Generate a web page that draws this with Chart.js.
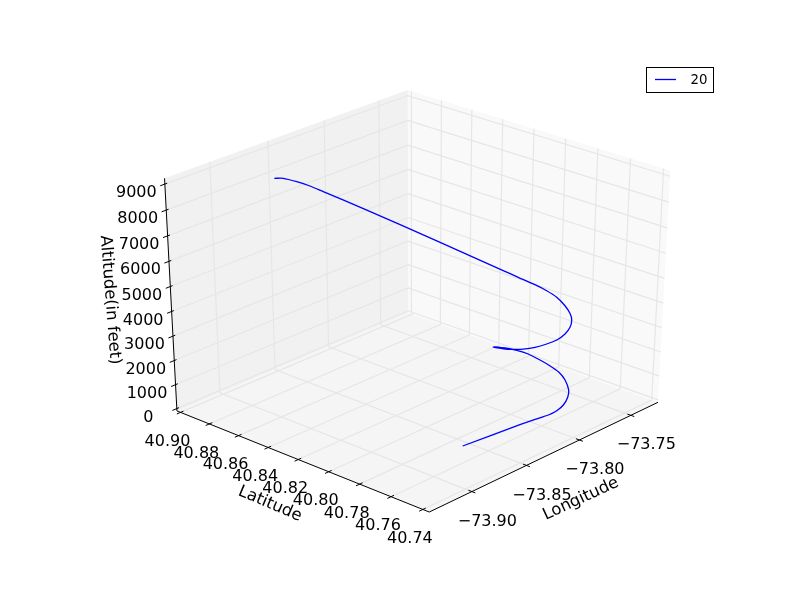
<!DOCTYPE html>
<html><head><meta charset="utf-8">
<style>html,body{margin:0;padding:0;background:#fff}canvas{display:block}</style>
<script src="https://cdn.jsdelivr.net/npm/chart.js@4"></script></head>
<body><canvas id="c" width="800" height="600"></canvas>
<script>
const longitude=[-73.8580,-73.8336,-73.8268,-73.8220,-73.8173,-73.8115,-73.8046,-73.7986,-73.7929,-73.7905,-73.7914,-73.7930,-73.7961,-73.8015,-73.8086,-73.8166,-73.8185,-73.8191,-73.8187,-73.8168,-73.8132,-73.8088,-73.8026,-73.7962,-73.7898,-73.7856,-73.7825,-73.7806,-73.7820,-73.7851,-73.7910,-73.7961,-73.8179,-73.8404,-73.8548,-73.8596,-73.8660,-73.8752,-73.8867];
const latitude=[40.7709,40.7515,40.7466,40.7416,40.7395,40.7393,40.7412,40.7446,40.7507,40.7562,40.7612,40.7666,40.7721,40.7758,40.7785,40.7805,40.7729,40.7663,40.7603,40.7543,40.7496,40.7463,40.7454,40.7466,40.7498,40.7537,40.7589,40.7654,40.7708,40.7762,40.7828,40.7889,40.8180,40.8462,40.8627,40.8678,40.8715,40.8733,40.8703];
const altitude=[0,850,1050,1250,1380,1500,1630,1730,1880,2020,2180,2330,2510,2680,2850,3000,3140,3280,3420,3590,3760,3910,4050,4170,4270,4370,4500,4660,4830,5010,5270,5500,6500,7500,8100,8300,8500,8750,9000];
const seriesName='20';
const lonTicks=[-73.90,-73.85,-73.80,-73.75];
const latTicks=[40.74,40.76,40.78,40.80,40.82,40.84,40.86,40.88,40.90];
const altTicks=[0,1000,2000,3000,4000,5000,6000,7000,8000,9000];
const lonLim=[-73.938,-73.723],latLim=[40.736,40.9025],altLim=[-100,9220];

const az=-137.5*Math.PI/180,el=30*Math.PI/180,dist=10;
const n=[Math.cos(el)*Math.cos(az),Math.cos(el)*Math.sin(az),Math.sin(el)];
const rt=[-Math.sin(az),Math.cos(az),0];
const up=[-Math.sin(el)*Math.cos(az),-Math.sin(el)*Math.sin(az),Math.cos(el)];
const dot=(a,b)=>a[0]*b[0]+a[1]*b[1]+a[2]*b[2];
function projU(u,v,w){const p=[u-.5,v-.5,w-.5];const f=dist/(dist-dot(p,n));return {x:dot(p,rt)*f,y:dot(p,up)*f};}
const fr=(v,l)=>(v-l[0])/(l[1]-l[0]);
const P=(lon,lat,alt)=>projU(fr(lon,lonLim),fr(lat,latLim),fr(alt,altLim));
const sx=349,cx=418.1,sy=268,cy=293.4;

const seg=(pts,color,w,ord,extra)=>Object.assign({data:pts,showLine:true,borderColor:color,borderWidth:w,pointRadius:0,order:ord,tension:0,fill:false,label:''},extra||{});
const ds=[];
const[lo0,lo1]=lonLim,[la0,la1]=latLim,[z0,z1]=altLim;
ds.push(seg([P(lo0,la1,z0),P(lo1,la1,z0),P(lo1,la1,z1),P(lo0,la1,z1)],'#f1f1f1',0,9,{fill:'shape',backgroundColor:'#f1f1f1'}));
ds.push(seg([P(lo1,la1,z0),P(lo1,la0,z0),P(lo1,la0,z1),P(lo1,la1,z1)],'#f9f9f9',0,9,{fill:'shape',backgroundColor:'#f9f9f9'}));
ds.push(seg([P(lo0,la0,z0),P(lo1,la0,z0),P(lo1,la1,z0),P(lo0,la1,z0)],'#f5f5f5',0,9,{fill:'shape',backgroundColor:'#f5f5f5'}));
const grid='#e6e6e6';
lonTicks.forEach(t=>ds.push(seg([P(t,la0,z0),P(t,la1,z0),P(t,la1,z1)],grid,1.2,8)));
latTicks.forEach(t=>ds.push(seg([P(lo0,t,z0),P(lo1,t,z0),P(lo1,t,z1)],grid,1.2,8)));
altTicks.forEach(t=>ds.push(seg([P(lo0,la1,t),P(lo1,la1,t),P(lo1,la0,t)],grid,1.2,8)));
ds.push(seg([P(lo0,la1,z0),P(lo0,la0,z0),P(lo1,la0,z0)],'#000',1,2));
ds.push(seg([P(lo0,la1,z0),P(lo0,la1,z1)],'#000',1,2));
const dLon=lo1-lo0,dLat=la1-la0;
latTicks.forEach(t=>ds.push(seg([P(lo0-.015*dLon,t,z0),P(lo0+.012*dLon,t,z0)],'#000',1,2)));
lonTicks.forEach(t=>ds.push(seg([P(t,la0-.013*dLat,z0),P(t,la0+.013*dLat,z0)],'#000',1,2)));
altTicks.forEach(t=>ds.push(seg([P(lo0-.018*dLon,la1,t),P(lo0+.009*dLon,la1,t)],'#000',1,2)));
ds.push(seg(longitude.map((q,i)=>P(q,latitude[i],altitude[i])),'#0000ff',1.3,1,{tension:.25,label:seriesName}));

const font='"DejaVu Sans"';
const texts={id:'texts',afterDraw(ch){const c=ch.ctx,X=ch.scales.x,Y=ch.scales.y;c.save();c.fillStyle='#000';c.textAlign='center';c.textBaseline='middle';c.font='16px '+font;
 const at=(p,dx,dy,s)=>c.fillText(s,X.getPixelForValue(p.x)+dx,Y.getPixelForValue(p.y)+dy);
 latTicks.forEach(t=>at(P(lo0,t,z0),-13,29.5,t.toFixed(2)));
 lonTicks.forEach(t=>at(P(t,la0,z0),15.5,30,'\u2212'+Math.abs(t).toFixed(2)));
 altTicks.forEach(t=>at(P(lo0,la1,t),-28.5,9,String(t)));
 const rot=(s,x,y,a)=>{c.save();c.translate(x,y);c.rotate(a*Math.PI/180);c.fillText(s,0,0);c.restore();};
 c.font='16.4px '+font;
 rot('Latitude',270,504,23);rot('Longitude',581,499,-25);rot('Altitude(in feet)',110,300,85.5);
 c.fillStyle='#fff';c.strokeStyle='#000';c.lineWidth=1;c.fillRect(646.5,67.5,67,25);c.strokeRect(646.5,67.5,67,25);
 c.strokeStyle='#0000ff';c.lineWidth=1.3;c.beginPath();c.moveTo(655,79.5);c.lineTo(676,79.5);c.stroke();
 c.fillStyle='#000';c.font='13.3px '+font;c.fillText(seriesName,699,80.5);
 c.restore();}};
new Chart(document.getElementById('c'),{type:'scatter',data:{datasets:ds},plugins:[texts],options:{responsive:false,animation:false,layout:{padding:0},
 plugins:{legend:{display:false},tooltip:{enabled:false},title:{display:false}},
 scales:{x:{type:'linear',display:false,min:(0-cx)/sx,max:(800-cx)/sx},y:{type:'linear',display:false,min:(cy-600)/sy,max:cy/sy}}}});
</script></body></html>
